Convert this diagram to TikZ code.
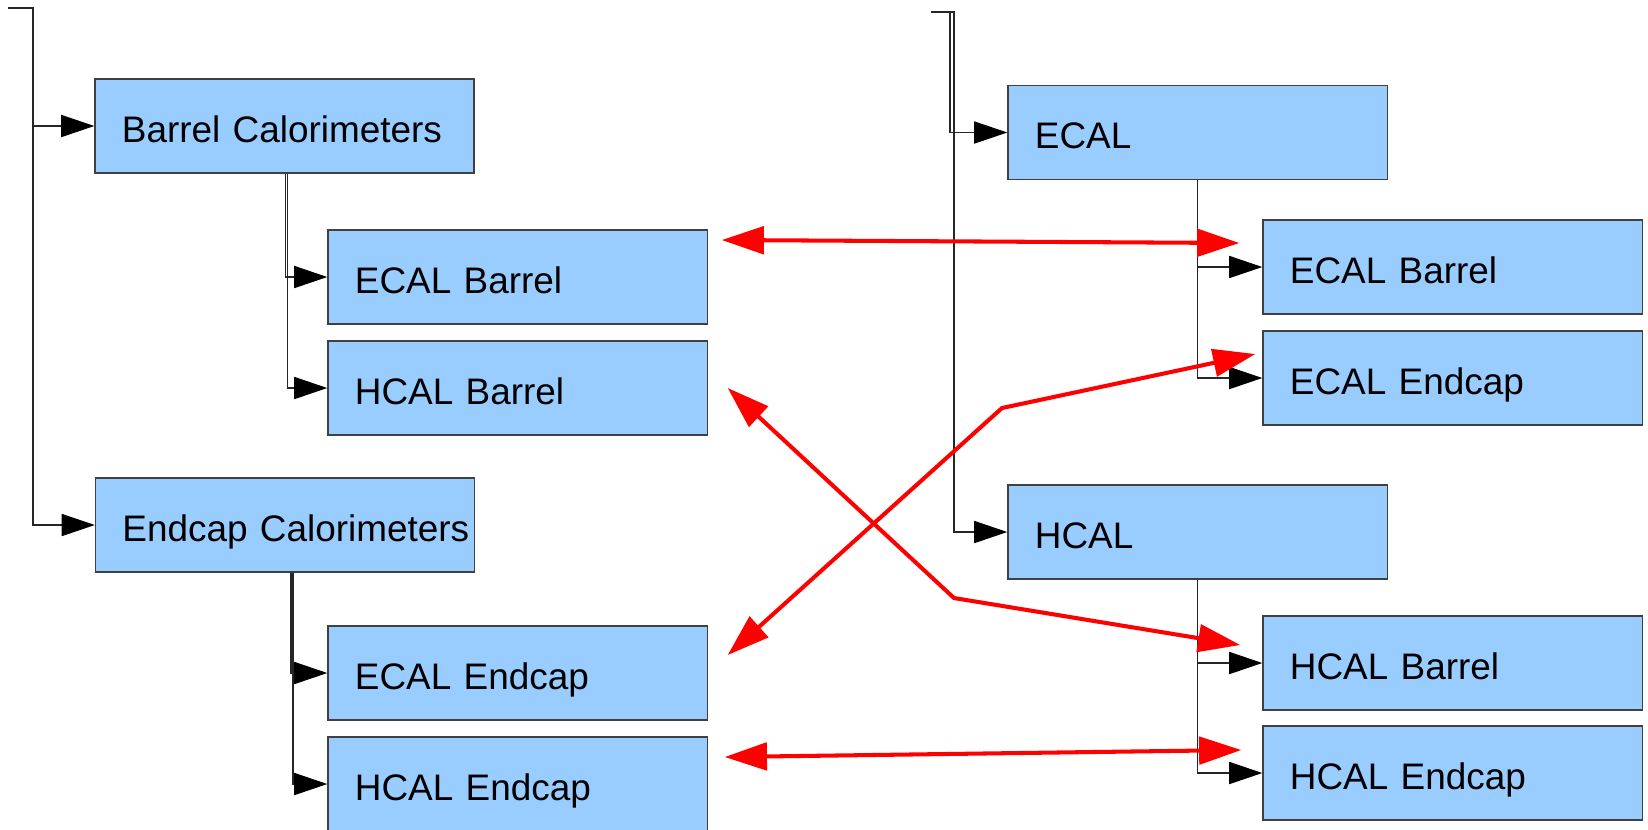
\documentclass[tikz,border=0pt]{standalone}
\usepackage{fontspec}
\setmainfont{Liberation Sans}
\usetikzlibrary{arrows.meta}
\definecolor{calblue}{RGB}{153,204,255}

\tikzstyle{cal} = [draw=black!75, fill=calblue, line width=0.35pt, text width=3.79cm, inner xsep=0pt, inner ysep=0pt, minimum height=0.94cm, text height=9.1pt, text depth=0pt, align=left, execute at begin node={\hspace*{0.27cm}\hbox\bgroup}, execute at end node={\egroup}, font=\fontsize{10.5}{13}\selectfont]
\tikzstyle{branch} = [draw=black!85, line width=0.3pt, -{Triangle[length=9.4pt,width=6.3pt,color=black]}]
\tikzstyle{link} = [draw=red, line width=1.15pt, {Triangle[length=12pt,width=7.8pt]}-{Triangle[length=12pt,width=7.8pt]}]

\begin{document}
\begin{tikzpicture}[x=0.01cm, y=-0.01cm]
\useasboundingbox (0,0) rectangle (1648,829);

\node[cal] (barrelcal) at (284.5,126) {Barrel Calorimeters};
\node[cal] (lecalb) at (517.5,277) {ECAL Barrel};
\node[cal] (lhcalb) at (517.5,388) {HCAL Barrel};
\node[cal] (endcapcal) at (285,525) {Endcap Calorimeters};
\node[cal] (lecale) at (517.5,673) {ECAL Endcap};
\node[cal] (lhcale) at (517.5,784) {HCAL Endcap};

\node[cal] (recal) at (1197.5,132.5) {ECAL};
\node[cal] (recalb) at (1452.5,267) {ECAL Barrel};
\node[cal] (recale) at (1452.5,378) {ECAL Endcap};
\node[cal] (rhcal) at (1197.5,532) {HCAL};
\node[cal] (rhcalb) at (1452.5,663) {HCAL Barrel};
\node[cal] (rhcale) at (1452.5,773) {HCAL Endcap};

\coordinate (lroot) at (8,8);
\coordinate (ltrunk) at (33,8);
\coordinate (rroot) at (931,12);
\coordinate (rtrunk) at (954,12);

\draw[branch] (lroot) -- (ltrunk) |- (barrelcal.west);
\draw[branch] (ltrunk) |- (endcapcal.west);
\draw[branch] ([shift={(1,0)}]barrelcal.south) |- (lecalb.west);
\draw[branch] ([shift={(3,0)}]barrelcal.south) |- (lhcalb.west);
\draw[branch] ([shift={(6,0)}]endcapcal.south) |- (lecale.west);
\draw[branch] ([shift={(8,0)}]endcapcal.south) |- (lhcale.west);

\draw[branch] (rroot) -- ([shift={(-4,0)}]rtrunk) |- (recal.west);
\draw[branch] (rroot) -- (rtrunk) |- (rhcal.west);
\draw[branch] (recal.south) |- (recalb.west);
\draw[branch] (recal.south) |- (recale.west);
\draw[branch] (rhcal.south) |- (rhcalb.west);
\draw[branch] (rhcal.south) |- (rhcale.west);

\coordinate (ebend) at (1002,408);
\coordinate (hbend) at (954,598);

\draw[link] ([shift={(14,-37)}]lecalb.east) -- ([shift={(-23,-24)}]recalb.west);
\draw[link] ([shift={(20,-18)}]lecale.east) -- (ebend) -- ([shift={(-7,-24)}]recale.west);
\draw[link] ([shift={(20,0)}]lhcalb.east) -- (hbend) -- ([shift={(-22,-18)}]rhcalb.west);
\draw[link] ([shift={(17,-27)}]lhcale.east) -- ([shift={(-21,-23)}]rhcale.west);
\end{tikzpicture}
\end{document}
